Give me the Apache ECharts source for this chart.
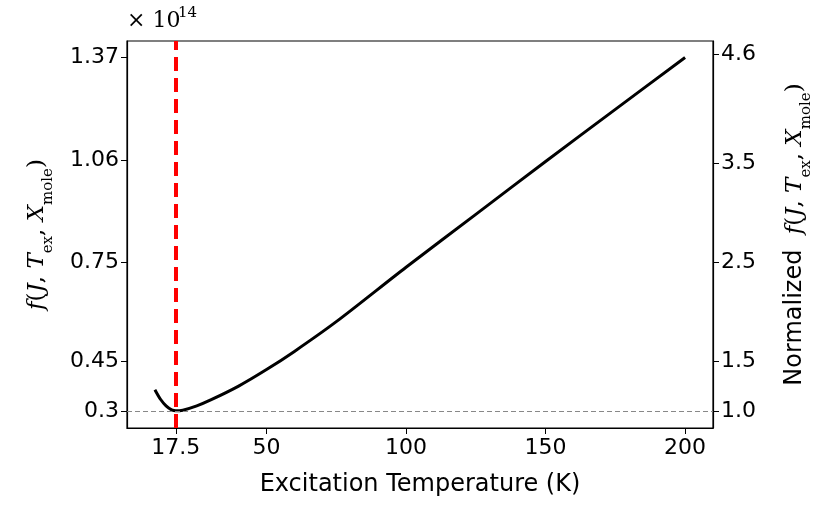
<!DOCTYPE html>
<html><head><meta charset="utf-8">
<script src="https://cdn.jsdelivr.net/npm/echarts@6/dist/echarts.min.js"></script>
<style>html,body{margin:0;padding:0;background:#fff}#c{width:831px;height:519px}</style>
</head><body><div id="c"></div>
<script>
const tempK = [10,12,14,16,17.5,20,25,30,40,50,60,75,100,125,150,175,200];
const fValues = [0.364,0.335,0.315,0.303,0.300,0.302,0.315,0.333,0.375,0.425,0.48,0.57,0.735,0.895,1.055,1.213,1.37];
const xTicks = [17.5,50,100,150,200];
const leftTicks = [0.3,0.45,0.75,1.06,1.37];
const rightTicks = [1.0,1.5,2.5,3.5,4.6];
const minF = 0.3, optT = 17.5;
const yMin = 0.248, yMax = 1.42;
const chart = echarts.init(document.getElementById('c'));
const font = 'DejaVu Sans';
const nameRich = {s:{fontSize:15,verticalAlign:'bottom',fontFamily:'DejaVu Serif',padding:[0,0,-7,0]}, i:{fontStyle:'italic',fontFamily:'DejaVu Serif',fontSize:23}, n:{fontSize:23,fontFamily:'DejaVu Serif'}};
chart.setOption({
  animation:false,
  grid:{left:127,right:118,top:41,bottom:91,show:true,borderColor:'#000',borderWidth:1.2},
  xAxis:{type:'value',min:0,max:210,name:'Excitation Temperature (K)',nameLocation:'middle',nameGap:45,
    nameTextStyle:{fontSize:24,fontFamily:font,color:'#000'},
    axisLine:{lineStyle:{color:'#000',width:1.2}},splitLine:{show:false},
    axisTick:{customValues:xTicks,length:6,lineStyle:{color:'#000'}},
    axisLabel:{customValues:xTicks,fontSize:22,fontFamily:font,color:'#000',margin:9}},
  yAxis:[{type:'value',min:yMin,max:yMax,position:'left',
    name:'{i|f}{n|(}{i|J}{n|, }{i|T}{s|ex}{n|, }{i|X}{s|mole}{n|)}',nameLocation:'middle',nameGap:78,nameRotate:90,
    nameTextStyle:{rich:nameRich,color:'#000'},
    axisLine:{show:true,lineStyle:{color:'#000',width:1.2}},splitLine:{show:false},
    axisTick:{show:true,customValues:leftTicks,length:6,lineStyle:{color:'#000'}},
    axisLabel:{customValues:leftTicks,fontSize:22,fontFamily:font,color:'#000',formatter:v=>String(+v.toFixed(2))}},
   {type:'value',min:yMin/minF,max:yMax/minF,position:'right',
    name:'{n|Normalized  }{i|f}{m|(}{i|J}{m|, }{i|T}{s|ex}{m|, }{i|X}{s|mole}{m|)}',nameLocation:'middle',nameGap:70,nameRotate:90,
    nameTextStyle:{rich:Object.assign({},nameRich,{n:{fontSize:24,fontFamily:font},m:{fontSize:23,fontFamily:'DejaVu Serif'}}),color:'#000'},
    axisLine:{show:true,lineStyle:{color:'#000',width:1.2}},splitLine:{show:false},
    axisTick:{show:true,customValues:rightTicks,length:6,lineStyle:{color:'#000'}},
    axisLabel:{customValues:rightTicks,fontSize:22,fontFamily:font,color:'#000',formatter:v=>v.toFixed(1)}}],
  graphic:[{type:'text',left:127,top:10,style:{text:'× 10',fontSize:22,fontFamily:'DejaVu Serif',fill:'#000'}},
           {type:'text',left:178,top:6,style:{text:'14',fontSize:15,fontFamily:'DejaVu Serif',fill:'#000'}}],
  series:[{type:'line',data:tempK.map((t,i)=>[t,fValues[i]]),smooth:0.3,showSymbol:false,
    lineStyle:{color:'#000',width:3},
    markLine:{silent:true,symbol:'none',label:{show:false},data:[
      {xAxis:optT,lineStyle:{color:'#ff0000',width:4,type:[14,7]}},
      {yAxis:minF,lineStyle:{color:'#888',width:1.2,type:[5,3]}}]}}]
});
</script></body></html>
